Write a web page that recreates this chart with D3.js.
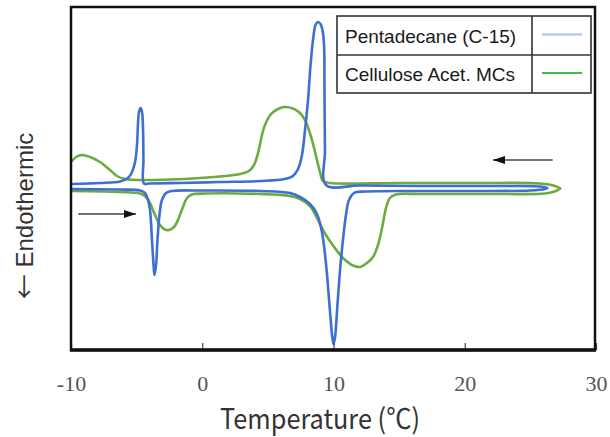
<!DOCTYPE html>
<html>
<head>
<meta charset="utf-8">
<script src="https://cdn.jsdelivr.net/npm/d3@7/dist/d3.min.js"></script>
<style>
  html, body { margin: 0; padding: 0; background: #fff; }
  svg { display: block; }
</style>
</head>
<body>
<svg id="chart" width="610" height="437"></svg>
<script>
// DSC thermograms: heat flow (arbitrary units) vs temperature (°C)
const temperatureTicks = [-10, 0, 10, 20, 30];
const seriesNames = ["Pentadecane (C-15)", "Cellulose Acet. MCs"];

// Pentadecane, cooling run (27 °C → -10 °C)
const c15Cooling = [
  [26.27, 0.0], [25.73, 0.15], [22.69, 0.2], [16.59, 0.2], [12.02, 0.25],
  [9.43, 0.3], [9.35, 3.8], [9.31, 10.8], [9.28, 14.3], [9.16, 15.8],
  [9.01, 16.4], [8.82, 16.6], [8.63, 16.3], [8.44, 14.8], [8.25, 12.3],
  [8.06, 8.8], [7.83, 5.8], [7.60, 3.3], [7.30, 1.9], [6.91, 1.2],
  [6.30, 0.9], [4.40, 0.7], [1.35, 0.6], [-1.70, 0.5], [-3.98, 0.45],
  [-4.44, 0.45], [-4.48, 2.8], [-4.51, 5.8], [-4.59, 7.6], [-4.70, 8.0],
  [-4.82, 7.6], [-4.90, 6.3], [-4.97, 4.3], [-5.12, 2.6], [-5.35, 1.6],
  [-5.66, 1.0], [-6.27, 0.65], [-7.79, 0.5], [-9.92, 0.4]
];

// Pentadecane, heating run (-10 °C → 27 °C)
const c15Heating = [
  [-9.92, -0.1], [-6.27, -0.15], [-4.74, -0.25], [-4.36, -0.5], [-4.13, -1.2],
  [-3.98, -2.2], [-3.83, -5.2], [-3.71, -7.7], [-3.64, -8.7], [-3.52, -7.7],
  [-3.41, -5.2], [-3.26, -2.7], [-3.07, -1.2], [-2.76, -0.5], [-2.30, -0.3],
  [-0.17, -0.25], [4.40, -0.3], [6.69, -0.5], [7.45, -0.9], [8.21, -1.6],
  [8.74, -2.6], [9.12, -4.4], [9.43, -7.6], [9.70, -11.8], [9.89, -14.7],
  [10.00, -15.6], [10.11, -15.0], [10.30, -11.7], [10.50, -8.2], [10.72, -5.2],
  [10.95, -2.7], [11.18, -1.2], [11.56, -0.5], [12.40, -0.35], [18.88, -0.3],
  [24.97, -0.25], [26.11, -0.1], [26.27, 0.0]
];

// Cellulose acetate microcapsules, cooling run
const mcCooling = [
  [27.26, -0.05], [26.88, 0.2], [25.73, 0.45], [21.16, 0.5], [15.07, 0.5],
  [9.73, 0.5], [9.20, 0.7], [8.97, 1.6], [8.74, 2.8], [8.36, 4.8],
  [7.90, 6.6], [7.45, 7.5], [6.91, 7.95], [6.30, 8.1], [5.77, 7.9],
  [5.24, 7.4], [4.78, 6.3], [4.55, 5.3], [4.25, 3.5], [3.94, 2.3],
  [3.56, 1.7], [2.88, 1.4], [1.73, 1.2], [-0.17, 1.0], [-2.46, 0.85],
  [-4.74, 0.8], [-5.89, 0.9], [-6.50, 1.2], [-7.03, 1.8], [-7.79, 2.6],
  [-8.55, 3.1], [-9.16, 3.3], [-9.62, 3.1], [-9.92, 2.7]
];

// Cellulose acetate microcapsules, heating run
const mcHeating = [
  [-9.92, -0.3], [-6.27, -0.4], [-4.74, -0.55], [-4.29, -0.9], [-3.98, -1.5],
  [-3.60, -2.7], [-3.22, -3.7], [-2.84, -4.15], [-2.53, -4.2], [-2.15, -3.9],
  [-1.85, -3.2], [-1.47, -1.9], [-1.16, -1.0], [-0.78, -0.65], [0.21, -0.55],
  [4.40, -0.6], [6.69, -0.8], [7.45, -1.1], [8.21, -1.8], [8.74, -3.0],
  [9.28, -4.4], [9.73, -5.3], [10.27, -6.3], [10.80, -7.1], [11.41, -7.7],
  [12.02, -7.9], [12.55, -7.5], [13.01, -6.9], [13.39, -5.7], [13.70, -4.0],
  [14.00, -2.0], [14.30, -1.0], [14.76, -0.65], [16.59, -0.6], [22.69, -0.6],
  [26.11, -0.55], [26.95, -0.3], [27.26, -0.05]
];

// Scan-direction arrows: [T start, T end, heat flow]
const scanArrows = [
  [26.7, 22.15, 2.8],    // cooling
  [-9.45, -5.05, -2.6]   // heating
];

const colors = { c15: "#3e6fd2", mc: "#6dab3f", c15Key: "#9fc2ef", mcKey: "#45bd3c" };

const svg = d3.select("#chart");
const plot = { left: 71, right: 596, top: 7, bottom: 350 };

const x = d3.scaleLinear().domain([-10, 30]).range([plot.left, plot.right]);
const y = d3.scaleLinear().domain([-16.2, 18.1]).range([plot.bottom, plot.top]);

svg.append("defs").append("clipPath").attr("id", "plotClip")
  .append("rect")
  .attr("x", plot.left).attr("y", plot.top)
  .attr("width", plot.right - plot.left).attr("height", plot.bottom - plot.top);

// Curves
const line = d3.line()
  .x(d => x(d[0]))
  .y(d => y(d[1]))
  .curve(d3.curveCatmullRom.alpha(0.5));

const curves = svg.append("g").attr("clip-path", "url(#plotClip)");
[[mcCooling, colors.mc], [mcHeating, colors.mc], [c15Cooling, colors.c15], [c15Heating, colors.c15]]
  .forEach(([data, color]) => {
    curves.append("path")
      .attr("d", line(data))
      .attr("fill", "none")
      .attr("stroke", color)
      .attr("stroke-width", 2.6)
      .attr("stroke-linejoin", "round")
      .attr("stroke-linecap", "round");
  });

// Scan direction arrows
const defs = svg.select("defs");
defs.append("marker")
  .attr("id", "arrowHead")
  .attr("viewBox", "0 0 12 8")
  .attr("refX", 12).attr("refY", 4)
  .attr("markerWidth", 12).attr("markerHeight", 8)
  .attr("markerUnits", "userSpaceOnUse")
  .attr("orient", "auto")
  .append("path").attr("d", "M0,0 L12,4 L0,8 Z").attr("fill", "#111");

svg.append("g").selectAll("line").data(scanArrows).join("line")
  .attr("x1", d => x(d[0])).attr("x2", d => x(d[1]))
  .attr("y1", d => y(d[2])).attr("y2", d => y(d[2]))
  .attr("stroke", "#444").attr("stroke-width", 1.5)
  .attr("marker-end", "url(#arrowHead)");

// X axis ticks and labels
const xAxis = d3.axisBottom(x)
  .tickValues(temperatureTicks)
  .tickSize(-7)
  .tickPadding(25)
  .tickFormat(d3.format("d"));

const gx = svg.append("g")
  .attr("transform", `translate(0,${plot.bottom})`)
  .call(xAxis);
gx.select(".domain").remove();
gx.selectAll(".tick line").attr("stroke", "#444").attr("stroke-width", 1.2);
gx.selectAll(".tick text")
  .attr("font-family", "'Liberation Serif', 'Times New Roman', serif")
  .attr("font-size", 22)
  .attr("fill", "#555")
  .text(d => d < 0 ? "-" + Math.abs(d) : d);

// Frame
svg.append("rect")
  .attr("x", plot.left).attr("y", plot.top)
  .attr("width", plot.right - plot.left - 1).attr("height", plot.bottom - plot.top)
  .attr("fill", "none").attr("stroke", "#111").attr("stroke-width", 2.5);
svg.append("line")
  .attr("x1", plot.left - 1).attr("x2", plot.right)
  .attr("y1", plot.bottom).attr("y2", plot.bottom)
  .attr("stroke", "#111").attr("stroke-width", 3.5);

// Axis titles
svg.append("text")
  .attr("x", 320).attr("y", 429)
  .attr("text-anchor", "middle")
  .attr("font-family", "'Noto Sans CJK JP', 'Noto Sans', sans-serif")
  .attr("font-size", 28)
  .attr("fill", "#333")
  .attr("textLength", 200)
  .attr("lengthAdjust", "spacingAndGlyphs")
  .text("Temperature (℃)");

const yTitle = svg.append("text")
  .attr("transform", "translate(33,216) rotate(-90)")
  .attr("text-anchor", "middle")
  .attr("font-family", "'Liberation Sans', Arial, sans-serif")
  .attr("font-size", 24)
  .attr("fill", "#333");
yTitle.append("tspan")
  .attr("font-family", "'Noto Sans CJK JP'")
  .attr("font-size", 25)
  .attr("dy", 1)
  .text("←");
yTitle.append("tspan").attr("dy", -1).text(" Endothermic");

// Legend table
const legend = svg.append("g");
const lg = { x0: 337, x1: 591, xDiv: 532, y0: 16, yMid: 55, y1: 93 };
legend.append("rect")
  .attr("x", lg.x0).attr("y", lg.y0)
  .attr("width", lg.x1 - lg.x0).attr("height", lg.y1 - lg.y0)
  .attr("fill", "#fff").attr("stroke", "#333").attr("stroke-width", 1.6);
legend.append("line")
  .attr("x1", lg.x0).attr("x2", lg.x1).attr("y1", lg.yMid).attr("y2", lg.yMid)
  .attr("stroke", "#333").attr("stroke-width", 1.6);
legend.append("line")
  .attr("x1", lg.xDiv).attr("x2", lg.xDiv).attr("y1", lg.y0).attr("y2", lg.y1)
  .attr("stroke", "#333").attr("stroke-width", 1.6);

const keyColors = [colors.c15Key, colors.mcKey];
const rowMid = [(lg.y0 + lg.yMid) / 2, (lg.yMid + lg.y1) / 2];
seriesNames.forEach((name, i) => {
  legend.append("text")
    .attr("x", lg.x0 + 8).attr("y", rowMid[i] + 7)
    .attr("font-family", "'Liberation Sans', Arial, sans-serif")
    .attr("font-size", 19)
    .attr("fill", "#1a1a1a")
    .text(name);
  legend.append("line")
    .attr("x1", lg.xDiv + 10).attr("x2", lg.x1 - 9)
    .attr("y1", rowMid[i] - 1).attr("y2", rowMid[i] - 1)
    .attr("stroke", keyColors[i]).attr("stroke-width", 2.2);
});
</script>
</body>
</html>
